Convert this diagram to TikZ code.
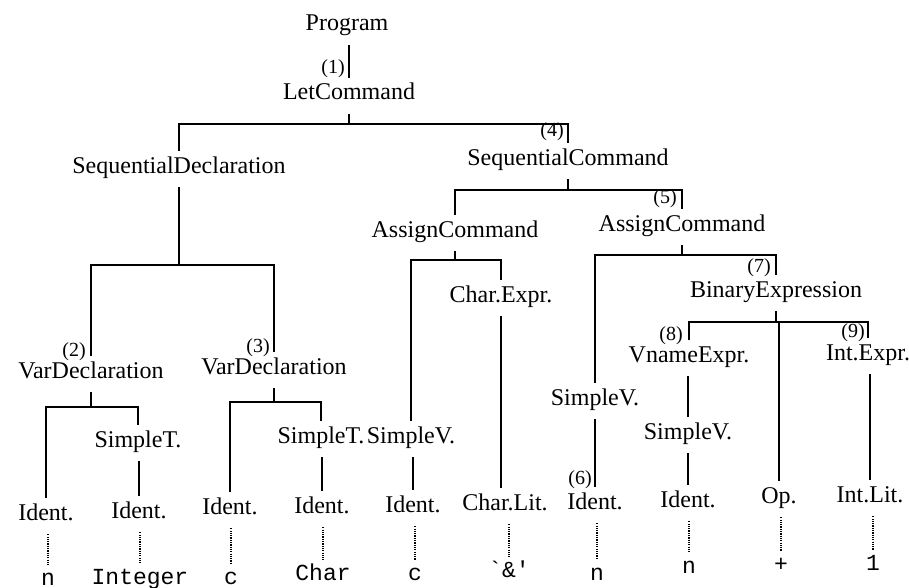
\documentclass[tikz,border=0pt]{standalone}
\usepackage{fontspec}
\setmainfont{Liberation Serif}
\newfontfamily\monof{Liberation Mono}
\begin{document}
\begin{tikzpicture}[x=1pt,y=-1pt,
  nd/.style={font=\fontsize{24}{28}\selectfont, inner sep=0pt, text height=21.5pt, text depth=14pt, anchor=base},
  lf/.style={font=\fontsize{23}{28}\selectfont\monof, inner sep=0pt, text height=20pt, text depth=0pt, anchor=base},
  lab/.style={font=\fontsize{20}{24}\selectfont, inner sep=0pt, anchor=base east},
  conn/.style={line width=1.9pt, line join=miter},
  dotln/.style={line width=1.3pt, dash pattern=on 1.2pt off 1.1pt}]
\fill[white] (0,0) rectangle (909,588);
\useasboundingbox (0,0) rectangle (909,588);

% inner nodes
\node[nd] (prog) at (347,31) {Program};
\node[nd] (let)  at (349,100) {LetCommand};
\node[nd] (seqd) at (179,173) {SequentialDeclaration};
\node[nd] (seqc) at (568,165) {SequentialCommand};
\node[nd] (vd1)  at (91,378) {VarDeclaration};
\node[nd] (vd2)  at (274,374) {VarDeclaration};
\node[nd] (st1)  at (138,447) {SimpleT.};
\node[nd] (st2)  at (321,443) {SimpleT.};
\node[nd] (sv1)  at (411,443) {SimpleV.};
\node[nd] (id1)  at (46,520) {Ident.};
\node[nd] (id2)  at (139,518) {Ident.};
\node[nd] (id3)  at (230,514) {Ident.};
\node[nd] (id4)  at (322,513) {Ident.};
\node[nd] (id5)  at (413,512) {Ident.};
\node[nd] (ac1)  at (455,237) {AssignCommand};
\node[nd] (ce)   at (501,302) {Char.Expr.};
\node[nd] (cl)   at (505,510) {Char.Lit.};
\node[nd] (ac2)  at (682,231) {AssignCommand};
\node[nd] (sv2)  at (595,405) {SimpleV.};
\node[nd] (id6)  at (595,509) {Ident.};
\node[nd] (be)   at (776,297) {BinaryExpression};
\node[nd] (ve)   at (689,362) {VnameExpr.};
\node[nd] (sv3)  at (688,439) {SimpleV.};
\node[nd] (id7)  at (688,507) {Ident.};
\node[nd] (op)   at (779,503) {Op.};
\node[nd] (ie)   at (868,360) {Int.Expr.};
\node[nd] (il)   at (870,502) {Int.Lit.};

% leaves
\node[lf] (l1)  at (48,585) {n};
\node[lf] (l2)  at (140,584) {Integer};
\node[lf] (l3)  at (231,584) {c};
\node[lf] (l4)  at (323,580) {Char};
\node[lf] (l5)  at (415,580) {c};
\node[lf] (l6)  at (509,577) {`\&'};
\node[lf] (l7)  at (597,580) {n};
\node[lf] (l8)  at (689,573) {n};
\node[lf] (l9)  at (781,571) {+};
\node[lf] (l10) at (873,570) {1};

% step labels
\node[lab] (k1) at (345,74) {(1)};
\node[lab] (k4) at (564,137) {(4)};
\node[lab] (k2) at (86,356) {(2)};
\node[lab] (k3) at (270,352) {(3)};
\node[lab] (k5) at (677,203) {(5)};
\node[lab] (k6) at (592,484) {(6)};
\node[lab] (k7) at (771,272) {(7)};
\node[lab] (k8) at (683,340) {(8)};
\node[lab] (k9) at (865,337) {(9)};

% bar levels
\coordinate (b1) at (0,124);
\coordinate (b2) at (0,265);
\coordinate (b3) at (0,190);
\coordinate (b4) at (0,407);
\coordinate (b5) at (0,402);
\coordinate (b6) at (0,260);
\coordinate (b7) at (0,255);
\coordinate (b8) at (0,322);

% connectors
\draw[conn] (let.north |- prog.south) -- (let.north);

\draw[conn] (let.south) -- (let.south |- b1);
\draw[conn] (seqd.north) -- (seqd.north |- b1) -- (seqc.north |- b1) -- (seqc.north);

\draw[conn] (seqd.south) -- (seqd.south |- b2);
\draw[conn] (vd1.north) -- (vd1.north |- b2) -- (vd2.north |- b2) -- (vd2.north);

\draw[conn] (seqc.south) -- (seqc.south |- b3);
\draw[conn] (ac1.north) -- (ac1.north |- b3) -- (ac2.north |- b3) -- (ac2.north);

\draw[conn] (vd1.south) -- (vd1.south |- b4);
\draw[conn] (id1.north) -- (id1.north |- b4) -- (st1.north |- b4) -- (st1.north);
\draw[conn] (id2.north |- st1.south) -- (id2.north);

\draw[conn] (vd2.south) -- (vd2.south |- b5);
\draw[conn] (id3.north) -- (id3.north |- b5) -- (st2.north |- b5) -- (st2.north);
\draw[conn] (id4.north |- st2.south) -- (id4.north);

\draw[conn] (ac1.south) -- (ac1.south |- b6);
\draw[conn] (sv1.north) -- (sv1.north |- b6) -- (ce.north |- b6) -- (ce.north);
\draw[conn] (id5.north |- sv1.south) -- (id5.north);
\draw[conn] (ce.south) -- (ce.south |- cl.north);

\draw[conn] (ac2.south) -- (ac2.south |- b7);
\draw[conn] (sv2.north) -- (sv2.north |- b7) -- (be.north |- b7) -- (be.north);
\draw[conn] (id6.north |- sv2.south) -- (id6.north);

\draw[conn] (be.south) -- (be.south |- b8);
\draw[conn] (ve.north) -- (ve.north |- b8) -- (ie.north |- b8) -- (ie.north);
\draw[conn] (op.north |- b8) -- (op.north);
\draw[conn] (sv3.north |- ve.south) -- (sv3.north);
\draw[conn] (id7.north |- sv3.south) -- (id7.north);
\draw[conn] (il.north |- ie.south) -- (il.north);

% dotted leaf links
\draw[dotln] (l1.north |- id1.south) -- (l1.north);
\draw[dotln] (l2.north |- id2.south) -- (l2.north);
\draw[dotln] (l3.north |- id3.south) -- (l3.north);
\draw[dotln] (l4.north |- id4.south) -- (l4.north);
\draw[dotln] (l5.north |- id5.south) -- (l5.north);
\draw[dotln] (l6.north |- cl.south) -- (l6.north);
\draw[dotln] (l7.north |- id6.south) -- (l7.north);
\draw[dotln] (l8.north |- id7.south) -- (l8.north);
\draw[dotln] (l9.north |- op.south) -- (l9.north);
\draw[dotln] (l10.north |- il.south) -- (l10.north);
\end{tikzpicture}
\end{document}
